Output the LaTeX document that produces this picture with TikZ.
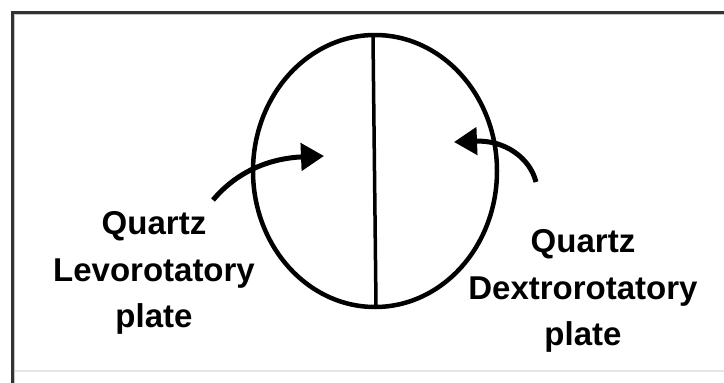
\documentclass[tikz,border=0pt]{standalone}
\usepackage{fontspec}
\setmainfont{Liberation Sans}
\usetikzlibrary{arrows.meta,shapes.geometric}
\begin{document}
\begin{tikzpicture}[x=1pt,y=-1pt,
  lab/.style={align=center,font=\fontsize{33}{46.5}\selectfont\bfseries,inner sep=0pt},
  pointer/.style={line width=5pt,-{Triangle[length=23pt,width=27pt]}}]
\useasboundingbox (0,0) rectangle (724,383);
\fill[white] (0,0) rectangle (724,383);
% frame
\draw[gray!20,line width=1.2pt] (14,371) -- (724,371);
\draw[gray!45,line width=1pt] (14.5,383) -- (14.5,14.5) -- (724,14.5);
\draw[black!80,line width=3pt] (12,383) -- (12,12) -- (724,12);
% ellipse and divider
\node[draw,ellipse,line width=4.5pt,minimum width=244pt,minimum height=272pt,inner sep=0pt] (e) at (375,171) {};
\coordinate (dtop) at (373,37);
\coordinate (dbot) at (376,305);
\draw[line width=3.5pt] (dtop) -- (dbot);
% labels
\node[lab] (left) at (154,273) {Quartz\\Levorotatory\\plate};
\node[lab] (right) at (583,291) {Quartz\\Dextrorotatory\\plate};
% arrows
\coordinate (ls) at (213,200);
\coordinate (lt) at (324,156);
\draw[pointer] (ls) .. controls (240,168) and (275,158) .. (lt);
\coordinate (rs) at (536,182);
\coordinate (rt) at (454,142);
\draw[pointer] (rs) .. controls (530,158) and (505,140) .. (rt);
\end{tikzpicture}
\end{document}
